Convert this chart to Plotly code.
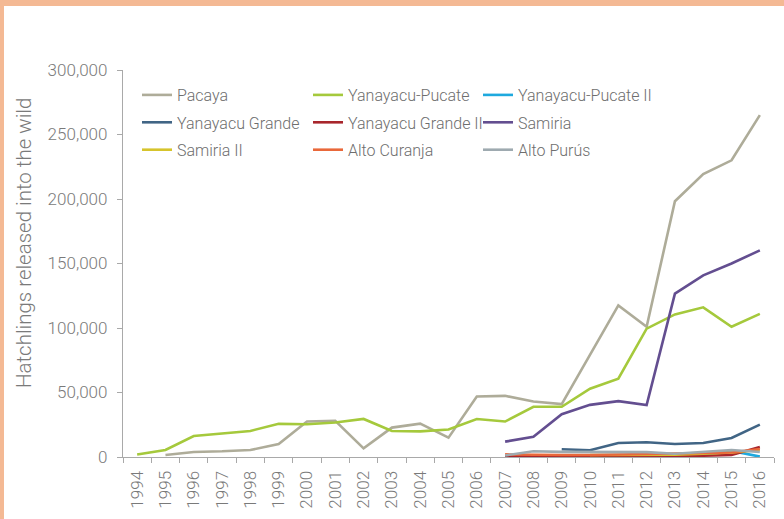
import plotly.graph_objects as go

years = list(range(1994, 2017))

pacaya = [None, 1500, 3900, 4400, 5400, 10100, 27500, 28000, 6700, 22800, 25900, 15000,
          46900, 47400, 43000, 41000, 79000, 117500, 101000, 198300, 219300, 230000, 265000]
yanayacu_pucate = [2000, 5400, 16300, 18400, 20200, 25700, 25400, 26700, 29500, 20200, 19900, 21300,
                   29500, 27500, 38900, 38900, 52900, 60700, 99500, 110500, 116000, 101000, 111000]
yanayacu_pucate_ii = [None] * 13 + [300, 400, 500, 800, 1000, 1500, 1500, 2000, 4700, 300]
yanayacu_grande = [None] * 15 + [6000, 5200, 10900, 11400, 10100, 10900, 14800, 25100]
yanayacu_grande_ii = [None] * 13 + [500, 500, 800, 800, 700, 1000, 600, 1000, 1500, 7800]
samiria = [None] * 13 + [11900, 15600, 33200, 40400, 43300, 40200, 126700, 140800, 150000, 160200]
samiria_ii = [None] * 16 + [1500, 1500, 1500, 1800, 2500, 3500, 5400]
alto_curanja = [None] * 13 + [2000, 1500, 1500, 1500, 2000, 2500, 2500, 3000, 3500, 6200]
alto_puru = [None] * 13 + [1200, 4500, 4000, 3800, 3500, 3800, 2500, 3800, 5400, 3900]

# (name, values, colour, legend column)
series = [
    ("Pacaya", pacaya, "#aeac99", "legend"),
    ("Yanayacu-Pucate", yanayacu_pucate, "#a5c93c", "legend2"),
    ("Yanayacu-Pucate II", yanayacu_pucate_ii, "#1ea9de", "legend3"),
    ("Yanayacu Grande", yanayacu_grande, "#416585", "legend"),
    ("Yanayacu Grande II", yanayacu_grande_ii, "#a8262c", "legend2"),
    ("Samiria", samiria, "#634e90", "legend3"),
    ("Samiria II", samiria_ii, "#d6c42c", "legend"),
    ("Alto Curanja", alto_curanja, "#e9683a", "legend2"),
    ("Alto Purús", alto_puru, "#9eaab0", "legend3"),
]

y_ticks = [0, 50000, 100000, 150000, 200000, 250000, 300000]
y_title = "Hatchlings released into the wild"

W, H = 784, 519
ML, MR, MT, MB = 123, 10, 70, 62
FONT = "Roboto"
GREY = "#7a7a7a"
AXIS = "#a9a9a9"
BORDER = "#f4b994"

pw = W - ML - MR
ph = H - MT - MB

fig = go.Figure()
for name, vals, color, leg in series:
    fig.add_trace(go.Scatter(
        x=years, y=vals, name=name, mode="lines",
        line=dict(color=color, width=2.6), connectgaps=False,
        legend=leg, legendgroup=name,
    ))

boundaries = [y - 0.5 for y in years] + [years[-1] + 0.5]
x_range = [years[0] - 0.5, years[-1] + 0.5]

legend_font = dict(family=FONT, size=16, color="#6e6e6e", weight=300)


def legend_column(text_left_px):
    return dict(
        orientation="v", x=(text_left_px - 40 - ML) / pw, y=(H - MB - 78) / ph,
        xanchor="left", yanchor="top", font=legend_font,
        bgcolor="rgba(0,0,0,0)", tracegroupgap=3.6, borderwidth=0,
    )


fig.update_layout(
    width=W, height=H,
    margin=dict(l=ML, r=MR, t=MT, b=MB),
    paper_bgcolor="white", plot_bgcolor="white",
    font=dict(family=FONT, size=17, color=GREY, weight=300),
    showlegend=True,
    legend=legend_column(177),
    legend2=legend_column(348),
    legend3=legend_column(518),
    xaxis=dict(
        range=x_range, tickmode="array", tickvals=years,
        ticktext=[str(y) for y in years], tickangle=-90,
        ticks="", showgrid=False, zeroline=False,
        showline=True, linecolor=AXIS, linewidth=1.3,
        minor=dict(tickmode="array", tickvals=boundaries, ticks="outside",
                   ticklen=5, tickcolor=AXIS, tickwidth=1.3, showgrid=False),
        tickfont=dict(size=17, color=GREY), ticklabelstandoff=6,
    ),
    xaxis2=dict(
        overlaying="x", anchor="y", side="bottom", range=x_range,
        tickmode="array", tickvals=boundaries, ticks="inside", ticklen=6,
        tickcolor=AXIS, tickwidth=1.3, showticklabels=False,
        showgrid=False, zeroline=False, showline=False,
    ),
    yaxis=dict(
        range=[0, 300000], tickmode="array", tickvals=y_ticks,
        ticktext=[f"{v:,}" for v in y_ticks],
        ticks="outside", ticklen=5, tickcolor=AXIS, tickwidth=1.3,
        showline=True, linecolor=AXIS, linewidth=1.3,
        showgrid=False, zeroline=False,
        tickfont=dict(size=17, color=GREY), ticklabelstandoff=6,
    ),
)

fig.add_annotation(
    text=y_title, textangle=-90, showarrow=False,
    xref="paper", yref="paper",
    x=(24 - ML) / pw, y=(H - MB - 243) / ph,
    xanchor="center", yanchor="middle",
    font=dict(family=FONT, size=20.5, color=GREY, weight=300),
)

# Salmon frame along the top and left edges of the page
fig.add_shape(type="rect", xref="paper", yref="paper", layer="above",
              x0=-ML / pw, x1=(W - ML) / pw, y0=(H - MB) / ph, y1=(H - MB - 6) / ph,
              fillcolor=BORDER, line_width=0)
fig.add_shape(type="rect", xref="paper", yref="paper", layer="above",
              x0=-ML / pw, x1=(4 - ML) / pw, y0=-MB / ph, y1=(H - MB) / ph,
              fillcolor=BORDER, line_width=0)

fig.write_html("out.html")
